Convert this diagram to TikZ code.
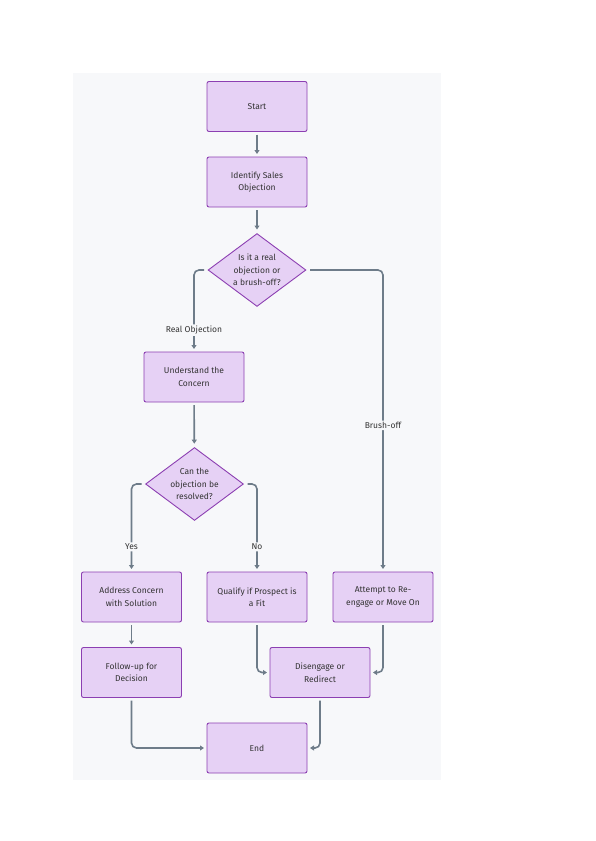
\documentclass[tikz,border=0pt]{standalone}
\usepackage{fontspec}
\setmainfont{Fira Sans}
\usetikzlibrary{shapes.geometric,arrows.meta}
\definecolor{boxfill}{HTML}{E6D1F5}
\definecolor{boxline}{HTML}{8C3FB2}
\definecolor{edgegray}{HTML}{6E7C89}
\definecolor{pagebg}{HTML}{F7F8FA}
\definecolor{txt}{HTML}{333333}
\tikzset{
    stepbox/.style = {draw=boxline, fill=boxfill, line width=0.9pt, rounded corners=2pt,
        minimum width=100pt, minimum height=50pt, align=center, text=txt,
        font=\fontsize{8.5}{12.5}\selectfont, outer sep=3pt},
    choice/.style = {diamond, draw=boxline, fill=boxfill, line width=0.9pt, aspect=1.33,
        inner sep=-6pt, minimum width=100pt, minimum height=75pt, align=center, text=txt,
        font=\fontsize{8.5}{12.5}\selectfont, outer sep=3pt},
    flow/.style = {draw=edgegray, line width=1.6pt, rounded corners=5pt,
        -{Triangle[length=4pt,width=5pt]}},
    lbl/.style = {fill=pagebg, text=txt, inner sep=1.5pt,
        font=\fontsize{8.5}{10}\selectfont}
}
\begin{document}
\begin{tikzpicture}[x=1pt,y=-1pt]
        \useasboundingbox (0,0) rectangle (595,841);
        \fill[white] (0,0) rectangle (595,841);
        \fill[pagebg] (73,73) rectangle (441,780);

        \node[stepbox] (start) at (257,106.5) {Start};
        \node[stepbox] (identify) at (257,182) {Identify Sales\\Objection};
        \node[choice] (real) at (257,270) {Is it a real\\objection or\\a brush-off?};
        \node[stepbox] (understand) at (194,377) {Understand the\\Concern};
        \node[choice] (resolve) at (194.5,484) {Can the\\objection be\\resolved?};
        \node[stepbox] (address) at (131.5,597) {Address Concern\\with Solution};
        \node[stepbox] (qualify) at (257,597) {Qualify if Prospect is\\a Fit};
        \node[stepbox] (attempt) at (383,597) {Attempt to Re-\\engage or Move On};
        \node[stepbox] (follow) at (131.5,672.5) {Follow-up for\\Decision};
        \node[stepbox] (disengage) at (320,672.5) {Disengage or\\Redirect};
        \node[stepbox] (end) at (257,748) {End};

        \draw[flow] (start) -- (identify);
        \draw[flow] (identify) -- (real);
        \draw[flow] (real.west) -| node[lbl, pos=0.88] {Real Objection} (understand.north);
        \draw[flow] (real.east) -| node[lbl, pos=0.76] {Brush-off} (attempt.north);
        \draw[flow] (understand) -- (resolve);
        \draw[flow] (resolve.west) -| node[lbl, pos=0.87] {Yes} (address.north);
        \draw[flow] (resolve.east) -| node[lbl, pos=0.87] {No} (qualify.north);
        \draw[flow] (address) -- (follow);
        \draw[flow] (qualify.south) |- (disengage.west);
        \draw[flow] (attempt.south) |- (disengage.east);
        \draw[flow] (follow.south) |- (end.west);
        \draw[flow] (disengage.south) |- (end.east);
\end{tikzpicture}
\end{document}
